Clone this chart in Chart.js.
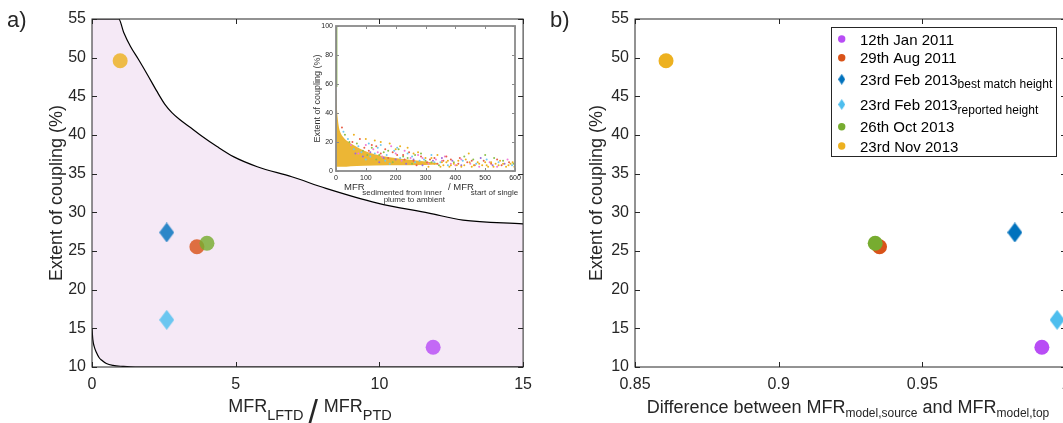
<!DOCTYPE html>
<html><head><meta charset="utf-8">
<script src="https://cdn.jsdelivr.net/npm/chart.js@4.4.1/dist/chart.umd.min.js"></script>
<style>
html,body{margin:0;padding:0;background:#fff;overflow:hidden;width:1063px;height:423px;position:relative;}
canvas{position:absolute;}
#ca{left:0;top:0}
#ci{left:290px;top:10px}
#cb{left:540px;top:0}
</style></head><body>
<canvas id="ca" width="540" height="423"></canvas>
<canvas id="ci" width="240" height="200"></canvas>
<canvas id="cb" width="540" height="423"></canvas>
<script>
// ---------------- data ----------------
const seriesNames   = ['12th Jan 2011','29th Aug 2011','23rd Feb 2013','23rd Feb 2013','26th Oct 2013','23rd Nov 2013'];
const seriesSubs    = ['','','best match height','reported height','',''];
const seriesColors  = ['#B84DF5','#D95319','#0072BD','#4DBEEE','#77AC30','#EDB120'];
const seriesMarkers = ['circle','circle','diamond','diamond','circle','circle'];
const seriesOrder   = [6,2,5,4,1,3];
const ratioLFTDtoPTD = [11.87, 3.65, 2.6, 2.6, 4.0, 0.98];
const mfrDifference  = [0.9916, 0.9351, 0.9822, 0.9969, 0.9336, 0.8608];
const couplingExtent = [12.55, 25.55, 27.4, 16.1, 26.0, 49.6];

const upperBoundX = [0, 0.93, 1.1, 1.34, 1.63, 1.93, 2.25, 2.53, 2.78, 3.05, 3.45, 3.84, 4.35, 4.92, 5.75, 6.95, 8.14, 9.93, 11.72, 12.91, 15];
const upperBoundY = [55, 55, 53.3, 51.45, 49.7, 47.8, 45.7, 44.0, 42.9, 42.0, 40.9, 39.8, 38.5, 37.2, 35.9, 34.6, 33.1, 31.2, 29.9, 29.0, 28.5];
const lowerBoundX = [0, 0.03, 0.08, 0.15, 0.25, 0.33, 0.5, 0.73, 1.07, 1.5, 15];
const lowerBoundY = [15, 13.5, 12.6, 11.9, 11.2, 10.9, 10.45, 10.2, 10.08, 10.0, 10.0];

const aXTicks = [0, 5, 10, 15];
const aYTicks = [10, 15, 20, 25, 30, 35, 40, 45, 50, 55];
const bXTicks = [0.85, 0.9, 0.95, 1];
const bYTicks = [10, 15, 20, 25, 30, 35, 40, 45, 50, 55];

// inset (all simulations)
const insetXTicks = [0, 100, 200, 300, 400, 500, 600];
const insetYTicks = [0, 20, 40, 60, 80, 100];
const insetDenseX     = [0, 3, 6, 10, 16, 24, 35, 50, 70, 95, 130, 180, 240, 300, 340];
const insetDenseUpper = [60, 44, 36, 30, 26, 23.5, 21, 19, 16.5, 14, 11.5, 9.5, 8, 6.5, 5.5];
const insetDenseLower = [3, 3, 3, 3, 3, 3, 3, 3.2, 3.4, 3.6, 3.8, 4, 4, 4.2, 4.5];
const insetGreenColumnY = [58, 100];
const insetRed    = [[110,14],[150,12],[175,9],[205,11],[230,8],[260,7],[285,10],[305,6],[330,9],[360,7],[385,8],[410,5],[440,6],[465,4],[495,7],[520,5],[555,4],[580,6],[120,18],[95,16],[245,13],[340,5],[270,4],[415,9],[55,20],[165,15],[135,17],[190,13],[225,11],[315,8],[370,10],[455,7],[540,8],[80,22],[20,30]];
const insetCyan   = [[60,15],[85,13],[115,10],[140,16],[165,7],[195,14],[215,9],[240,12],[265,6],[295,8],[320,11],[350,6],[375,4],[425,7],[470,5],[505,8],[545,6],[590,4],[100,8],[180,5],[40,22],[130,12],[150,18],[170,11],[205,16],[255,10],[280,7],[330,6],[110,19],[75,17],[25,27]];
const insetGreen  = [[70,19],[105,11],[135,8],[160,13],[190,6],[225,10],[255,5],[300,7],[345,4],[395,6],[430,10],[460,8],[500,11],[530,9],[560,7],[595,5],[285,12],[210,15],[30,25],[90,14],[120,16],[145,11],[175,14],[240,9],[265,11],[320,6],[45,20]];
const insetPink   = [[75,12],[125,15],[155,10],[185,17],[220,7],[250,9],[275,11],[310,5],[335,8],[365,10],[400,4],[450,5],[480,3],[515,6],[540,3],[575,8],[600,4],[50,18],[100,18],[140,13],[200,12],[230,14],[290,9],[355,7],[385,5],[420,8]];
const insetPurple = [[90,10],[145,6],[200,8],[235,5],[290,4],[355,9],[390,7],[420,4],[485,9],[525,4],[565,5],[65,12],[115,13],[160,9],[260,8],[325,7]];
const insetYellow = [[330,5],[350,3],[370,6],[380,3],[395,5],[420,3],[435,8],[455,3],[475,6],[490,4],[510,3],[535,5],[550,7],[570,3],[585,5],[598,3],[300,9],[310,3],[240,16],[180,19],[130,21],[215,17],[275,13],[340,11],[445,12],[500,6],[360,4],[375,7],[405,4],[410,7],[430,4],[448,6],[462,4],[480,5],[505,4],[520,6],[528,3],[545,4],[560,5],[578,4],[592,6],[355,6],[385,4],[150,20],[200,15],[260,12],[320,9],[100,22],[60,25]];

// ---------------- helpers ----------------
Chart.defaults.font.family = "'Liberation Sans', Arial, Helvetica, sans-serif";
Chart.defaults.color = '#262626';
Chart.defaults.animation = false;

function hexA(hex, a) {
  const n = parseInt(hex.slice(1), 16);
  return `rgba(${(n>>16)&255},${(n>>8)&255},${n&255},${a})`;
}
function makeDiamond(w, h, color) {
  const c = document.createElement('canvas');
  c.width = w; c.height = h;
  const g = c.getContext('2d');
  g.fillStyle = color;
  g.beginPath(); g.moveTo(w/2, 0); g.lineTo(w, h/2); g.lineTo(w/2, h); g.lineTo(0, h/2); g.closePath(); g.fill();
  return c;
}
function axis(min, max, ticks, size, pad, fit, fmt) {
  return {
    type: 'linear', min, max,
    grid: {display: false, drawTicks: false}, border: {display: false},
    afterBuildTicks: s => { s.ticks = ticks.map(v => ({value: v})); },
    ticks: {font: {size}, padding: pad, maxRotation: 0, autoSkip: false, callback: fmt || (v => String(v))},
    afterFit: fit
  };
}
function drawRich(ctx, parts, x, y) {
  let cx = x;
  for (const p of parts) {
    if (p.gap) { cx += p.gap; continue; }
    ctx.font = p.size + "px 'Liberation Sans', Arial, sans-serif";
    ctx.fillText(p.t, cx, y + (p.dy || 0));
    cx += ctx.measureText(p.t).width;
  }
  return cx;
}
function richWidth(ctx, parts) {
  let w = 0;
  for (const p of parts) {
    if (p.gap) { w += p.gap; continue; }
    ctx.font = p.size + "px 'Liberation Sans', Arial, sans-serif";
    w += ctx.measureText(p.t).width;
  }
  return w;
}
function boxPlugin(o) {
  return {
    id: 'box' + o.id,
    afterDraw(chart) {
      const ctx = chart.ctx, a = chart.chartArea;
      const xs = chart.scales.x, ys = chart.scales.y;
      ctx.save();
      ctx.strokeStyle = o.color; ctx.lineWidth = o.width;
      ctx.strokeRect(a.left, a.top, a.right - a.left, a.bottom - a.top);
      ctx.lineWidth = 1;
      ctx.beginPath();
      xs.ticks.forEach(t => {
        const p = Math.round(xs.getPixelForValue(t.value)) + 0.5;
        ctx.moveTo(p, a.bottom); ctx.lineTo(p, a.bottom - o.tl);
        ctx.moveTo(p, a.top); ctx.lineTo(p, a.top + o.tl);
      });
      ys.ticks.forEach(t => {
        const p = Math.round(ys.getPixelForValue(t.value)) + 0.5;
        ctx.moveTo(a.left, p); ctx.lineTo(a.left + o.tl, p);
        ctx.moveTo(a.right, p); ctx.lineTo(a.right - o.tl, p);
      });
      ctx.stroke();
      ctx.fillStyle = '#262626';
      if (o.extra) o.extra(ctx, chart);
      ctx.restore();
    }
  };
}
function yTitle(ctx, text, size, cx, cy) {
  ctx.save();
  ctx.translate(cx, cy); ctx.rotate(-Math.PI / 2);
  ctx.font = size + "px 'Liberation Sans', Arial, sans-serif";
  ctx.textAlign = 'center'; ctx.textBaseline = 'middle';
  ctx.fillText(text, 0, 0);
  ctx.restore();
}
function pointDatasets(xvals, alpha, r, dw, dh) {
  return seriesNames.map((n, i) => ({
    type: 'scatter', label: n + (seriesSubs[i] ? ' ' + seriesSubs[i] : ''),
    data: [{x: xvals[i], y: couplingExtent[i]}],
    order: seriesOrder[i],
    pointStyle: seriesMarkers[i] === 'diamond' ? makeDiamond(dw, dh, hexA(seriesColors[i], alpha)) : 'circle',
    pointRadius: r, borderWidth: 0,
    backgroundColor: hexA(seriesColors[i], alpha)
  }));
}

// ---------------- panel a ----------------
new Chart(document.getElementById('ca'), {
  type: 'scatter',
  data: {
    datasets: [
      {type: 'line', data: upperBoundX.map((x, i) => ({x, y: upperBoundY[i]})), order: 20,
       borderColor: '#000', borderWidth: 1.2, pointRadius: 0, fill: 'start',
       backgroundColor: '#F5E9F6', cubicInterpolationMode: 'monotone'},
      {type: 'line', data: lowerBoundX.map((x, i) => ({x, y: lowerBoundY[i]})), order: 19,
       borderColor: '#000', borderWidth: 1.2, pointRadius: 0, fill: 'start',
       backgroundColor: '#ffffff', cubicInterpolationMode: 'monotone'},
      ...pointDatasets(ratioLFTDtoPTD, 0.82, 7.5, 15, 20)
    ]
  },
  options: {
    responsive: false, events: [],
    layout: {padding: {left: 0, top: 19, right: 15, bottom: 0}},
    plugins: {legend: {display: false}, tooltip: {enabled: false}},
    scales: {
      x: axis(0, 15, aXTicks, 16, 8, s => { s.height = 56; }),
      y: axis(10, 55, aYTicks, 16, 6, s => { s.width = 92; })
    }
  },
  plugins: [boxPlugin({id: 'a', color: '#262626', width: 1, tl: 5, extra(ctx) {
    ctx.textBaseline = 'alphabetic';
    ctx.font = "22px 'Liberation Sans', Arial, sans-serif";
    ctx.fillText('a)', 7, 27);
    yTitle(ctx, 'Extent of coupling (%)', 18, 57.5, 193);
    const parts = [{t: 'MFR', size: 18}, {t: 'LFTD', size: 14.5, dy: 7.5}, {gap: 5},
                   {t: '/', size: 34, dy: 11}, {gap: 6}, {t: 'MFR', size: 18}, {t: 'PTD', size: 14.5, dy: 7.5}];
    const w = richWidth(ctx, parts);
    drawRich(ctx, parts, 310 - w / 2, 412);
  }})]
});

// ---------------- inset ----------------
function insetPts(arr, color) {
  return {type: 'scatter', data: arr.map(p => ({x: p[0], y: p[1]})), pointRadius: 1, borderWidth: 0,
          backgroundColor: color, order: 1};
}
new Chart(document.getElementById('ci'), {
  type: 'scatter',
  data: {
    datasets: [
      {type: 'line', data: insetDenseX.map((x, i) => ({x, y: insetDenseUpper[i]})), order: 10,
       borderWidth: 0, borderColor: 'rgba(0,0,0,0)', pointRadius: 0, fill: '+1',
       backgroundColor: 'rgba(234,176,36,0.92)', cubicInterpolationMode: 'monotone'},
      {type: 'line', data: insetDenseX.map((x, i) => ({x, y: insetDenseLower[i]})), order: 11,
       borderWidth: 0, borderColor: 'rgba(0,0,0,0)', pointRadius: 0, fill: false},
      {type: 'line', data: insetGreenColumnY.map(y => ({x: 0.8, y})), order: 2,
       borderColor: '#77AC30', borderWidth: 2.2, pointRadius: 0, fill: false},
      insetPts(insetYellow, '#EDB120'),
      insetPts(insetRed, '#E8604A'),
      insetPts(insetCyan, '#6FC8F0'),
      insetPts(insetGreen, '#8CC04A'),
      insetPts(insetPink, '#F07AD8'),
      insetPts(insetPurple, '#9A6AD8')
    ]
  },
  options: {
    responsive: false, events: [],
    layout: {padding: {left: 0, top: 16, right: 15, bottom: 0}},
    plugins: {legend: {display: false}, tooltip: {enabled: false}},
    scales: {
      x: axis(0, 600, insetXTicks, 7, 3, s => { s.height = 39; }),
      y: axis(0, 100, insetYTicks, 7, 3, s => { s.width = 46; })
    }
  },
  plugins: [boxPlugin({id: 'i', color: '#8a8a8a', width: 1.8, tl: 3, extra(ctx) {
    ctx.fillStyle = '#333';
    yTitle(ctx, 'Extent of coupling (%)', 9, 28, 88.5);
    ctx.textBaseline = 'alphabetic';
    drawRich(ctx, [{t: 'MFR', size: 9.5}], 54, 180);
    drawRich(ctx, [{t: 'sedimented from inner', size: 8}], 72.3, 185);
    ctx.textAlign = 'right';
    ctx.font = "8px 'Liberation Sans', Arial, sans-serif";
    ctx.fillText('plume to ambient', 155, 192);
    ctx.textAlign = 'left';
    drawRich(ctx, [{t: '/ MFR', size: 9.5}], 158, 180);
    drawRich(ctx, [{t: 'start of single', size: 8}], 180.7, 185.3);
  }})]
});

// ---------------- panel b ----------------
new Chart(document.getElementById('cb'), {
  type: 'scatter',
  data: {datasets: pointDatasets(mfrDifference, 1, 7.5, 15, 20)},
  options: {
    responsive: false, events: [],
    layout: {padding: {left: 0, top: 19, right: 14, bottom: 0}},
    plugins: {legend: {display: false}, tooltip: {enabled: false}},
    scales: {
      x: axis(0.85, 1.0, bXTicks, 16, 8, s => { s.height = 56; }, v => String(+Number(v).toFixed(2))),
      y: axis(10, 55, bYTicks, 16, 6, s => { s.width = 95; })
    }
  },
  plugins: [boxPlugin({id: 'b', color: '#262626', width: 1, tl: 5, extra(ctx) {
    ctx.textBaseline = 'alphabetic';
    ctx.font = "22px 'Liberation Sans', Arial, sans-serif";
    ctx.fillText('b)', 10, 27);
    yTitle(ctx, 'Extent of coupling (%)', 18, 57.5, 193);
    const parts = [{t: 'Difference between MFR', size: 18}, {t: 'model,source', size: 12, dy: 4},
                   {t: ' and MFR', size: 18}, {t: 'model,top', size: 12, dy: 4}];
    const w = richWidth(ctx, parts);
    drawRich(ctx, parts, 308 - w / 2, 412.7);
    // legend
    ctx.fillStyle = '#ffffff';
    ctx.fillRect(291, 27.5, 225.5, 129);
    ctx.strokeStyle = '#262626'; ctx.lineWidth = 1;
    ctx.strokeRect(291.5, 27.5, 225, 129);
    const rowsY = [39, 57.7, 79.3, 104.5, 126.7, 146];
    seriesNames.forEach((n, i) => {
      const y = rowsY[i];
      if (seriesMarkers[i] === 'diamond') {
        ctx.drawImage(makeDiamond(7, 11, seriesColors[i]), 301.7 - 3.5, y - 5.5);
      } else {
        ctx.fillStyle = seriesColors[i];
        ctx.beginPath(); ctx.arc(301.7, y, 3.7, 0, Math.PI * 2); ctx.fill();
      }
      ctx.fillStyle = '#000';
      const parts = [{t: n, size: 15}];
      if (seriesSubs[i]) parts.push({t: seriesSubs[i], size: 12, dy: 3.5});
      drawRich(ctx, parts, 320, y + 5.5);
    });
  }})]
});
</script>
</body></html>
